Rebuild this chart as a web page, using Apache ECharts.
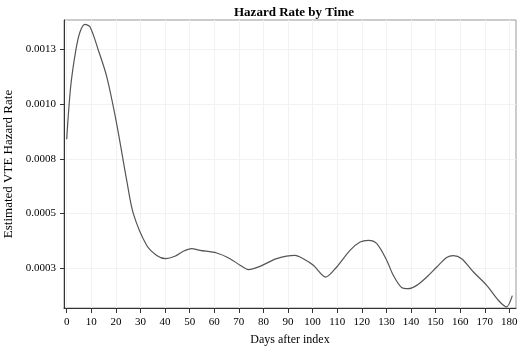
<!DOCTYPE html>
<html>
<head>
<meta charset="utf-8">
<script src="https://cdn.jsdelivr.net/npm/echarts@6/dist/echarts.min.js"></script>
<style>
  html, body { margin: 0; padding: 0; background: #fff; }
  #chart { width: 520px; height: 353px; }
</style>
</head>
<body>
<div id="chart"></div>
<script>
// days after index and estimated hazard
const days = [0, 1.6, 3.7, 5.4, 7.4, 9.5, 12.9, 16.3, 20.3, 24.4, 27.1, 32.5, 36.6, 40.3, 44, 47.4,
  50.8, 54.2, 61, 66.4, 70.5, 73.9, 78.6, 85.4, 92.8, 96.2, 100.3, 105.3, 109.8, 115.2, 119.3,
  122.7, 126.1, 130.1, 132.8, 136.2, 138.9, 142.3, 146.4, 150.5, 154.5, 157.2, 160.6, 165.4,
  170.8, 175.5, 178.8, 181.2];
const hazard = [0.000839, 0.001078, 0.001245, 0.001329, 0.001364, 0.001352, 0.001245, 0.001124,
  0.000911, 0.000652, 0.0005, 0.000355, 0.000309, 0.000294, 0.000305, 0.000328,
  0.00034, 0.000332, 0.00032, 0.000294, 0.000264, 0.000244, 0.000259, 0.000294, 0.000309,
  0.000294, 0.000264, 0.00021, 0.000256, 0.000332, 0.00037, 0.000378, 0.000363, 0.000287,
  0.000218, 0.000162, 0.000157, 0.000172, 0.00021, 0.000256, 0.000299, 0.000308, 0.000294,
  0.000233, 0.000172, 0.000104, 0.000074, 0.000125];

const xTicks = [0, 10, 20, 30, 40, 50, 60, 70, 80, 90, 100, 110, 120, 130, 140, 150, 160, 170, 180];
const yTicks = [0.00025, 0.0005, 0.00075, 0.001, 0.00125];
const yTickLabels = ['0.0003', '0.0005', '0.0008', '0.0010', '0.0013'];

const chart = echarts.init(document.getElementById('chart'));
const serif = 'Liberation Serif';
chart.setOption({
  animation: false,
  textStyle: { fontFamily: serif },
  title: {
    text: 'Hazard Rate by Time', left: 289, top: 1, textAlign: 'center',
    textStyle: { fontFamily: serif, fontSize: 13, fontWeight: 'bold', color: '#000' }
  },
  grid: {
    left: 64, right: 4, top: 20, bottom: 45, show: true, borderColor: '#999', borderWidth: 1,
    outerBoundsMode: 'none', containLabel: false
  },
  xAxis: {
    type: 'value', min: -1.1, max: 182.7,
    name: 'Days after index', nameLocation: 'middle', nameGap: 26,
    nameTextStyle: { fontFamily: serif, fontSize: 12, color: '#000' },
    axisLine: { onZero: false, lineStyle: { color: '#333', width: 1 } },
    axisTick: { customValues: xTicks, length: 5, lineStyle: { color: '#333' } },
    axisLabel: { customValues: xTicks, fontSize: 11, color: '#000', margin: 9 },
    splitLine: { show: true, lineStyle: { color: '#f2f2f2', width: 1 } }
  },
  yAxis: {
    type: 'value', min: 0.0000687, max: 0.001384,
    name: 'Estimated VTE Hazard Rate', nameLocation: 'middle', nameGap: 42,
    nameTextStyle: { fontFamily: serif, fontSize: 13, color: '#000' },
    axisLine: { show: true, onZero: false, lineStyle: { color: '#333', width: 1 } },
    axisTick: { show: true, customValues: yTicks, length: 4, lineStyle: { color: '#333' } },
    axisLabel: {
      customValues: yTicks, fontSize: 11, color: '#000', margin: 8,
      formatter: v => yTickLabels[yTicks.findIndex(t => Math.abs(t - v) < 1e-9)]
    },
    splitLine: { show: true, lineStyle: { color: '#f2f2f2', width: 1 } }
  },
  series: [{
    type: 'line', smooth: 0.3, showSymbol: false,
    data: days.map((d, i) => [d, hazard[i]]),
    lineStyle: { color: '#555', width: 1.2 }
  }]
});
</script>
</body>
</html>
